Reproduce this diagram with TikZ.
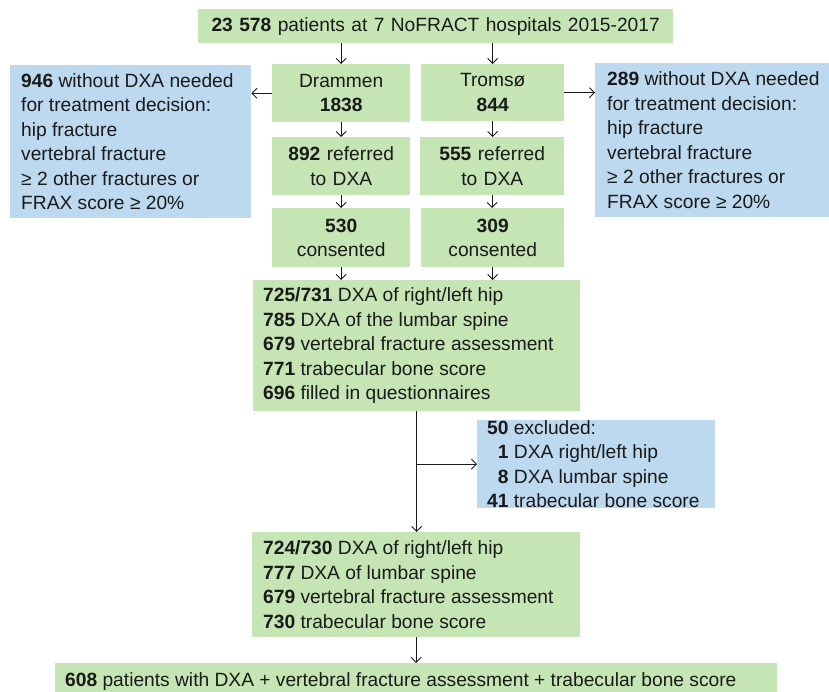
\documentclass[tikz,border=0pt]{standalone}
\usepackage{fontspec}
\setmainfont{Liberation Sans}
\usetikzlibrary{arrows.meta}
\definecolor{gfill}{HTML}{C6E5B5}
\definecolor{bfill}{HTML}{BDD9EF}
\definecolor{ink}{HTML}{1A1A1A}
\tikzset{
  box/.style={anchor=north west, inner sep=0pt, font=\fontsize{19.2}{24.5}\selectfont, text=ink},
  gbox/.style={box, fill=gfill},
  bbox/.style={box, fill=bfill},
  ltext/.style={anchor=west, inner sep=0pt, align=left, font=\fontsize{19.2}{24.5}\selectfont, text=ink},
  arr/.style={draw=ink, line width=0.9pt, -{Straight Barb[length=5pt,width=10pt,line width=0.9pt]}}
}
\begin{document}
\begin{tikzpicture}[x=1pt,y=-1pt]
\useasboundingbox (0,0) rectangle (829,692);
\node[gbox, minimum width=475pt, minimum height=34pt, text width=475pt, align=center] (top) at (198,9)
  {\textbf{23 578} patients at 7 NoFRACT hospitals 2015-2017};
\node[gbox, minimum width=138pt, minimum height=58pt, text width=138pt, align=center] (dr) at (272,64)
  {Drammen\\\textbf{1838}};
\node[gbox, minimum width=143pt, minimum height=57pt, text width=143pt, align=center] (tr) at (421,64)
  {Tromsø\\\textbf{844}};
\node[bbox, minimum width=241pt, minimum height=153pt] (lb) at (10,65) {};
\node[ltext] (lbt) at ([xshift=11pt]lb.west)
  {\textbf{946} without DXA needed\\for treatment decision:\\hip fracture\\vertebral fracture\\≥ 2 other fractures or\\FRAX score ≥ 20\%};
\node[bbox, minimum width=240pt, minimum height=154pt] (rb) at (595,63) {};
\node[ltext] (rbt) at ([xshift=12pt]rb.west)
  {\textbf{289} without DXA needed\\for treatment decision:\\hip fracture\\vertebral fracture\\≥ 2 other fractures or\\FRAX score ≥ 20\%};
\node[gbox, minimum width=138pt, minimum height=58pt, text width=138pt, align=center] (dr2) at (272,137)
  {\textbf{892} referred\\to DXA};
\node[gbox, minimum width=144pt, minimum height=58pt, text width=144pt, align=center] (tr2) at (420,137)
  {\textbf{555} referred\\to DXA};
\node[gbox, minimum width=138pt, minimum height=59pt, text width=138pt, align=center] (dr3) at (272,208)
  {\textbf{530}\\consented};
\node[gbox, minimum width=143pt, minimum height=59pt, text width=143pt, align=center] (tr3) at (421,208)
  {\textbf{309}\\consented};
\node[gbox, minimum width=327pt, minimum height=131pt] (big) at (253,280) {};
\node[ltext] (bigt) at ([xshift=10pt]big.west)
  {\textbf{725/731} DXA of right/left hip\\\textbf{785} DXA of the lumbar spine\\\textbf{679} vertebral fracture assessment\\\textbf{771} trabecular bone score\\\textbf{696} filled in questionnaires};
\node[bbox, minimum width=238pt, minimum height=88pt] (ex) at (477,420) {};
\node[ltext] (ext) at ([xshift=10pt]ex.west)
  {\textbf{50} excluded:\\\phantom{\textbf{4}}\textbf{1} DXA right/left hip\\\phantom{\textbf{4}}\textbf{8} DXA lumbar spine\\\textbf{41} trabecular bone score};
\node[gbox, minimum width=328pt, minimum height=105pt] (mid) at (252,532) {};
\node[ltext] (midt) at ([xshift=11pt]mid.west)
  {\textbf{724/730} DXA of right/left hip\\\textbf{777} DXA of lumbar spine\\\textbf{679} vertebral fracture assessment\\\textbf{730} trabecular bone score};
\node[gbox, minimum width=722pt, minimum height=34pt] (bot) at (55,663) {};
\node[ltext] (bott) at ([xshift=10pt, yshift=-1pt]bot.west)
  {\textbf{608} patients with DXA + vertebral fracture assessment + trabecular bone score};
% connectors
\draw[arr] (top.south -| dr.north) -- (dr.north);
\draw[arr] (top.south -| tr.north) -- (tr.north);
\draw[arr] (dr.west) -- (lb.east |- dr.west);
\draw[arr] (tr.east) -- (rb.west |- tr.east);
\draw[arr] (dr.south) -- (dr2.north -| dr.south);
\draw[arr] (tr.south) -- (tr2.north -| tr.south);
\draw[arr] (dr2.south) -- (dr3.north -| dr2.south);
\draw[arr] (tr2.south) -- (tr3.north -| tr2.south);
\draw[arr] (dr3.south) -- (big.north -| dr3.south);
\draw[arr] (tr3.south) -- (big.north -| tr3.south);
\draw[arr] (big.south) -- (mid.north -| big.south);
\coordinate (br) at (big.south |- ex.west);
\draw[arr] (br) -- (ex.west);
\draw[arr] (mid.south) -- (bot.north -| mid.south);
\end{tikzpicture}
\end{document}
